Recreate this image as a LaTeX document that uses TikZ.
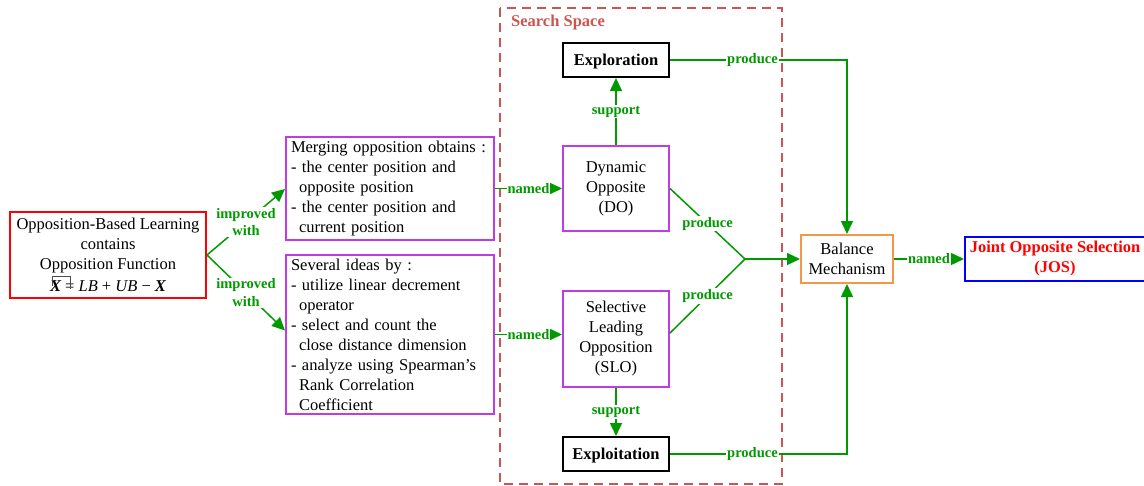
\documentclass[tikz,border=0pt]{standalone}
\usepackage{fontspec}
\setmainfont{Liberation Serif}
\usetikzlibrary{arrows.meta}
\definecolor{cgreen}{RGB}{0,153,0}
\definecolor{cpurple}{RGB}{190,60,230}
\definecolor{corange}{RGB}{247,150,70}
\definecolor{cbrown}{RGB}{205,85,80}
\begin{document}
\begin{tikzpicture}[x=1pt,y=-1pt,
  box/.style={draw, line width=2pt, inner sep=0pt, align=center, font=\fontsize{16.5}{20}\selectfont},
  conn/.style={cgreen, line width=1.5pt},
  arr/.style={conn, -{Triangle[length=13pt,width=12pt]}},
  lbl/.style={font=\fontsize{14.5}{17.5}\selectfont\bfseries, text=cgreen, fill=white, inner sep=1pt, align=center}]
\useasboundingbox (0,0) rectangle (1144,485);
% search space
\draw[cbrown, line width=1.5pt, dash pattern=on 9pt off 6pt] (500,8) rectangle (782,484);
\node[anchor=base west, text=cbrown, font=\fontsize{16.5}{19}\selectfont\bfseries, inner sep=0pt] (ss) at (511,26) {Search Space};
% nodes
\node[box, draw=red, minimum width=196pt, minimum height=86pt] (obl) at (108,255)
  {Opposition-Based Learning\\contains\\Opposition Function\\[2pt]
   {\bfseries\itshape X} = {\itshape LB} + {\itshape UB} − {\bfseries\itshape X}};
\draw[black!70, line width=0.6pt] (52,286) -- (52,276) -- (70.5,276) -- (70.5,289);
\node[box, draw=cpurple, minimum width=208pt, minimum height=103pt, text width=198pt, align=left] (mo) at (390,188.5)
  {Merging opposition obtains :\\- the center position and\\\hspace*{8pt}opposite position\\- the center position and\\\hspace*{8pt}current position};
\node[box, draw=cpurple, minimum width=208pt, minimum height=159pt, text width=198pt, align=left] (id) at (390,334.5)
  {Several ideas by :\\- utilize linear decrement\\\hspace*{8pt}operator\\- select and count the\\\hspace*{8pt}close distance dimension\\- analyze using Spearman’s\\\hspace*{8pt}Rank Correlation\\\hspace*{8pt}Coefficient};
\node[box, minimum width=106pt, minimum height=34pt, text depth=0pt, font=\fontsize{16.5}{20}\selectfont\bfseries] (expl) at (616,60) {Exploration};
\node[box, draw=cpurple, minimum width=106pt, minimum height=85pt] (do) at (616,188.5) {Dynamic\\Opposite\\(DO)};
\node[box, draw=cpurple, minimum width=106pt, minimum height=96pt] (slo) at (616,339) {Selective\\Leading\\Opposition\\(SLO)};
\node[box, minimum width=106pt, minimum height=34pt, text depth=0pt, font=\fontsize{16.5}{20}\selectfont\bfseries] (expt) at (616,454) {Exploitation};
\node[box, draw=corange, minimum width=92pt, minimum height=48pt] (bal) at (847,259) {Balance\\Mechanism};
\node[box, draw=blue, minimum width=180pt, minimum height=44pt, text=red, font=\fontsize{16.5}{20}\selectfont\bfseries] (jos) at (1055,259) {Joint Opposite Selection\\(JOS)};
\coordinate (j) at (745,259);
% connectors
\draw[arr] (obl.east) -- node[lbl]{improved\\with} ([yshift=-0.5pt]mo.west);
\draw[arr] (obl.east) -- node[lbl]{improved\\with} ([yshift=4pt]id.west);
\draw[arr] (mo.east) -- node[lbl]{named} (do.west);
\draw[arr] (id.east) -- node[lbl]{named} (id.east -| slo.west);
\draw[arr] (do.north) -- node[lbl]{support} (expl.south);
\draw[arr] (slo.south) -- node[lbl]{support} (expt.north);
\draw[conn] (do.east) -- node[lbl]{produce} (j);
\draw[conn] ([yshift=6pt]slo.east) -- node[lbl]{produce} (j);
\draw[arr] (j) -- (bal.west);
\draw[arr] (expl.east) -- node[lbl,pos=0.466]{produce} (expl.east -| bal.north) -- (bal.north);
\draw[arr] (expt.east) -- node[lbl,pos=0.466]{produce} (expt.east -| bal.south) -- (bal.south);
\draw[arr] (bal.east) -- node[lbl]{named} (jos.west);
\end{tikzpicture}
\end{document}
